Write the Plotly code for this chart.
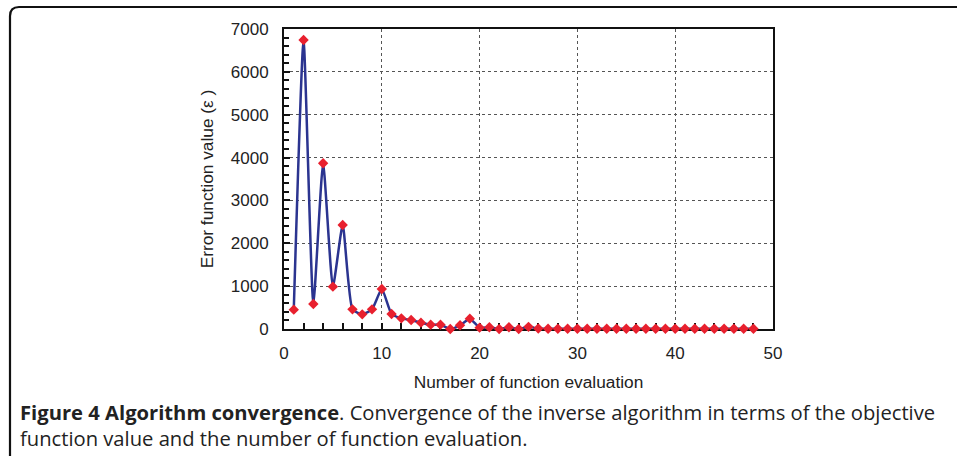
import plotly.graph_objects as go

evaluations = list(range(1, 49))
error_values = [451, 6743, 583, 3866, 988, 2427, 459, 342, 459, 933,
                350, 249, 210, 148, 101, 101, 0, 86, 241, 31,
                40, 0, 40, 0, 50, 10, 5, 5, 5, 5,
                5, 5, 5, 5, 5, 5, 5, 5, 5, 5,
                5, 5, 5, 5, 5, 5, 5, 5]
x_ticks = [0, 10, 20, 30, 40, 50]
y_ticks = [0, 1000, 2000, 3000, 4000, 5000, 6000, 7000]

L, R, T, B = 284, 773, 29, 329
W, H = 957, 456
PW, PH = R - L, B - T

def px(x):
    return (x - L) / PW

def py(y):
    return (B - y) / PH

fig = go.Figure()
fig.add_trace(go.Scatter(
    x=evaluations, y=error_values, mode="lines+markers",
    line=dict(color="#2b3490", width=2.5, shape="spline", smoothing=0.5),
    marker=dict(symbol="diamond", size=8, color="#e8202e",
                line=dict(width=0)),
    cliponaxis=False,
))

axis_font = dict(family="Liberation Sans, Arial, sans-serif", size=17, color="#222222")
title_font = dict(family="Liberation Sans, Arial, sans-serif", size=17.3, color="#222222")

fig.update_xaxes(
    range=[0, 50], tickvals=x_ticks, ticks="inside", ticklen=6, tickwidth=1.5,
    tickcolor="#111111", showline=True, linecolor="#111111", linewidth=2,
    mirror=True, showgrid=True, gridcolor="#555555", griddash="dot", gridwidth=1,
    zeroline=False, tickfont=axis_font, ticklabelstandoff=8, layer="below traces",
    minor=dict(dtick=2, ticks="inside", ticklen=6, tickwidth=1.5, tickcolor="#111111", showgrid=False),
    title=dict(text="Number of function evaluation", font=title_font, standoff=13),
)
fig.update_yaxes(
    range=[0, 7000], tickvals=y_ticks, ticks="inside", ticklen=6, tickwidth=1.5,
    tickcolor="#111111", showline=True, linecolor="#111111", linewidth=2,
    mirror=True, showgrid=True, gridcolor="#555555", griddash="dot", gridwidth=1,
    zeroline=False, tickfont=axis_font, ticklabelstandoff=10, layer="below traces",
    minor=dict(dtick=200, ticks="inside", ticklen=5, tickwidth=1.5, tickcolor="#111111", showgrid=False),
    title=dict(text="Error function value (ε )", font=title_font, standoff=13),
)

r = 9
x0, y0 = px(10), py(7)
x1, y1 = px(970), py(470)
rx, ry = r / PW, r / PH
path = (f"M {x1} {y0} L {x0 + rx} {y0} Q {x0} {y0} {x0} {y0 - ry} L {x0} {y1}")
fig.add_shape(type="path", path=path, xref="paper", yref="paper",
              line=dict(color="#111111", width=2.2), layer="above")

cap_font = dict(family="Open Sans, sans-serif", size=20.2, color="#222222")
fig.add_annotation(
    text=("<b>Figure 4 Algorithm convergence</b>. Convergence of the inverse algorithm in terms of the objective"
          "<br>function value and the number of function evaluation."),
    xref="paper", yref="paper", x=px(18), y=py(425), xanchor="left", yanchor="middle",
    align="left", showarrow=False, font=cap_font,
)

fig.update_layout(
    width=W, height=H, margin=dict(l=L, r=W - R, t=T, b=H - B),
    paper_bgcolor="white", plot_bgcolor="white", showlegend=False,
)

fig.write_html("out.html")
